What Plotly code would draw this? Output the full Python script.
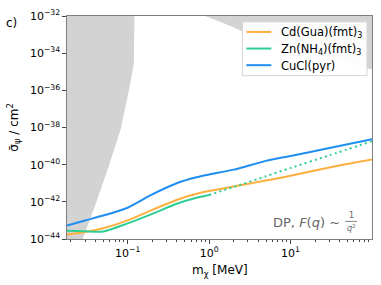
import plotly.graph_objects as go

# ---------------- data ----------------
mass = [0.018, 0.03, 0.05, 0.1, 0.2, 0.4, 0.7, 1, 2, 5, 10, 30, 100]
cucl_pyr = [5.25e-44, 1.0e-43, 1.82e-43, 4.8e-43, 2.5e-42, 1.0e-41, 2.1e-41,
            2.95e-41, 5.4e-41, 1.6e-40, 2.95e-40, 7.9e-40, 2.35e-39]
cd_gua = [1.74e-44, 2.4e-44, 3.8e-44, 1.0e-43, 3.7e-43, 1.26e-42, 2.7e-42,
          3.8e-42, 6.6e-42, 1.4e-41, 2.5e-41, 7.1e-41, 1.9e-40]
mass_zn_solid = [0.018, 0.03, 0.05, 0.1, 0.2, 0.4, 0.7, 1]
zn_nh4_solid = [2.8e-44, 2.63e-44, 2.5e-44, 6.9e-44, 2.25e-43, 7.9e-43, 1.66e-42, 2.35e-42]
mass_zn_dot = [1, 2, 5, 10, 30, 100]
zn_nh4_dot = [2.35e-42, 6.3e-42, 2.4e-41, 6.6e-41, 3.2e-40, 1.82e-39]

# excluded regions (grey)
excl_left_m = [0.01, 0.121, 0.121, 0.119, 0.103, 0.082, 0.059, 0.041, 0.028, 0.024, 0.01]
excl_left_s = [1e-31, 1e-31, 1e-32, 2.5e-35, 9e-37, 8e-39, 9e-41, 9e-43, 1e-44, 1e-45, 1e-45]
excl_top_m = [0.75, 0.89, 1.57, 2.6, 12.9, 100, 150, 150]
excl_top_s = [2e-32, 1e-32, 3.8e-33, 1.45e-33, 1.6e-34, 1.45e-35, 8e-36, 1e-31]

series_names = ["Cd(Gua)(fmt)<sub>3</sub>", "Zn(NH<sub>4</sub>)(fmt)<sub>3</sub>", "CuCl(pyr)"]

C_OR = "#fdb040"
C_GR = "#2ecf92"
C_BL = "#1f8ef1"
GREY = "#d3d3d3"
SM = 0.6
colors = [C_OR, C_GR, C_BL]

fig = go.Figure()
fig.add_trace(go.Scatter(x=excl_left_m, y=excl_left_s, fill="toself", fillcolor=GREY,
                         line=dict(width=0), mode="lines", showlegend=False, hoverinfo="skip"))
fig.add_trace(go.Scatter(x=excl_top_m, y=excl_top_s, fill="toself", fillcolor=GREY,
                         line=dict(width=0), mode="lines", showlegend=False, hoverinfo="skip"))

fig.add_trace(go.Scatter(x=mass, y=cd_gua, mode="lines", name=series_names[0], showlegend=False,
                         line=dict(color=C_OR, width=2, shape="spline", smoothing=SM)))
fig.add_trace(go.Scatter(x=mass_zn_solid, y=zn_nh4_solid, mode="lines", showlegend=False,
                         name=series_names[1],
                         line=dict(color=C_GR, width=2, shape="spline", smoothing=SM)))
fig.add_trace(go.Scatter(x=mass_zn_dot, y=zn_nh4_dot, mode="lines", showlegend=False,
                         name=series_names[1],
                         line=dict(color=C_GR, width=2, dash="2px,3.3px", shape="spline", smoothing=SM)))
fig.add_trace(go.Scatter(x=mass, y=cucl_pyr, mode="lines", name=series_names[2], showlegend=False,
                         line=dict(color=C_BL, width=2, shape="spline", smoothing=SM)))

x_ticks = [0.1, 1, 10]
x_ticktext = ["10<sup>\u22121</sup>", "10<sup>0</sup>", "10<sup>1</sup>"]
x_minor = [k * d for d in [0.01, 0.1, 1, 10] for k in range(2, 10)]
y_ticks = [1e-32, 1e-34, 1e-36, 1e-38, 1e-40, 1e-42, 1e-44]
y_ticktext = ["10<sup>\u221232</sup>", "10<sup>\u221234</sup>", "10<sup>\u221236</sup>",
              "10<sup>\u221238</sup>", "10<sup>\u221240</sup>", "10<sup>\u221242</sup>",
              "10<sup>\u221244</sup>"]

AX = dict(showline=True, mirror=True, linecolor="#7f7f7f", linewidth=1.3,
          showgrid=False, zeroline=False, ticks="outside", ticklen=3.5,
          tickcolor="#444", tickwidth=1, tickfont=dict(size=11, color="black"))

fig.update_layout(
    width=381, height=285,
    margin=dict(l=67, r=8, t=11, b=46),
    plot_bgcolor="white", paper_bgcolor="white",
    font=dict(family="DejaVu Sans", size=10, color="black"),
    xaxis=dict(type="log", range=[-1.745, 2.0], tickvals=x_ticks, ticktext=x_ticktext,
               minor=dict(tickvals=x_minor, ticks="outside", ticklen=2, tickcolor="#444"),
               **AX),
    yaxis=dict(type="log", range=[-44, -32], tickvals=y_ticks, ticktext=y_ticktext, **AX),
    showlegend=False,
)

def px2paper(px, py):
    return (px - 67) / 306.0, (239 - py) / 228.0

ann = []
shapes = []

# legend box (drawn manually to match compact matplotlib legend)
lx0, ly0 = px2paper(243, 17)
lx1, ly1 = px2paper(368, 72)
shapes.append(dict(type="rect", xref="paper", yref="paper", x0=lx0, x1=lx1, y0=ly1, y1=ly0,
                   fillcolor="rgba(255,255,255,0.92)", line=dict(color="#d4d4d4", width=1),
                   layer="above"))
for i, (nm, col) in enumerate(zip(series_names, colors)):
    rowy = 27.3 + 17 * i
    a0, b0 = px2paper(247, rowy)
    a1, _ = px2paper(272, rowy)
    shapes.append(dict(type="line", xref="paper", yref="paper", x0=a0, x1=a1, y0=b0, y1=b0,
                       line=dict(color=col, width=2), layer="above"))
    tx, ty = px2paper(280, rowy + 0.5)
    ann.append(dict(text=nm, x=tx, y=ty, xref="paper", yref="paper", showarrow=False,
                    font=dict(size=11.5, color="black"), xanchor="left", yanchor="middle"))

x, y = px2paper(13, 125)
ann.append(dict(text="\u03c3\u0304<sub>\u03c8</sub> / cm<sup>2</sup>", x=x, y=y, xref="paper", yref="paper",
                textangle=-90, showarrow=False, font=dict(size=12, color="black"),
                xanchor="center", yanchor="middle"))
x, y = px2paper(220, 272)
ann.append(dict(text="m<sub>\u03c7</sub> [MeV]", x=x, y=y, xref="paper", yref="paper",
                showarrow=False, font=dict(size=12, color="black"),
                xanchor="center", yanchor="middle"))
x, y = px2paper(11, 18)
ann.append(dict(text="c)", x=x, y=y, xref="paper", yref="paper", showarrow=False,
                font=dict(size=12, color="black"), xanchor="center", yanchor="middle"))
x, y = px2paper(343, 222)
ann.append(dict(text="DP, <i>F</i>(<i>q</i>) ~", x=x, y=y, xref="paper", yref="paper",
                showarrow=False, font=dict(size=13, color="#666666"),
                xanchor="right", yanchor="middle"))
x, y = px2paper(352, 215)
ann.append(dict(text="1", x=x, y=y, xref="paper", yref="paper", showarrow=False,
                font=dict(size=8, color="#666666"), xanchor="center", yanchor="middle"))
x, y = px2paper(352, 228)
ann.append(dict(text="<i>q</i><sup>2</sup>", x=x, y=y, xref="paper", yref="paper", showarrow=False,
                font=dict(size=8, color="#666666"), xanchor="center", yanchor="middle"))
x0, y0 = px2paper(346, 221)
x1, _ = px2paper(358, 221)
shapes.append(dict(type="line", xref="paper", yref="paper", x0=x0, x1=x1, y0=y0, y1=y0,
                   line=dict(color="#666666", width=0.8)))
fig.update_layout(annotations=ann, shapes=shapes)

fig.write_html("out.html", config={"displayModeBar": False},
               post_script="document.body.style.margin='0px';")
